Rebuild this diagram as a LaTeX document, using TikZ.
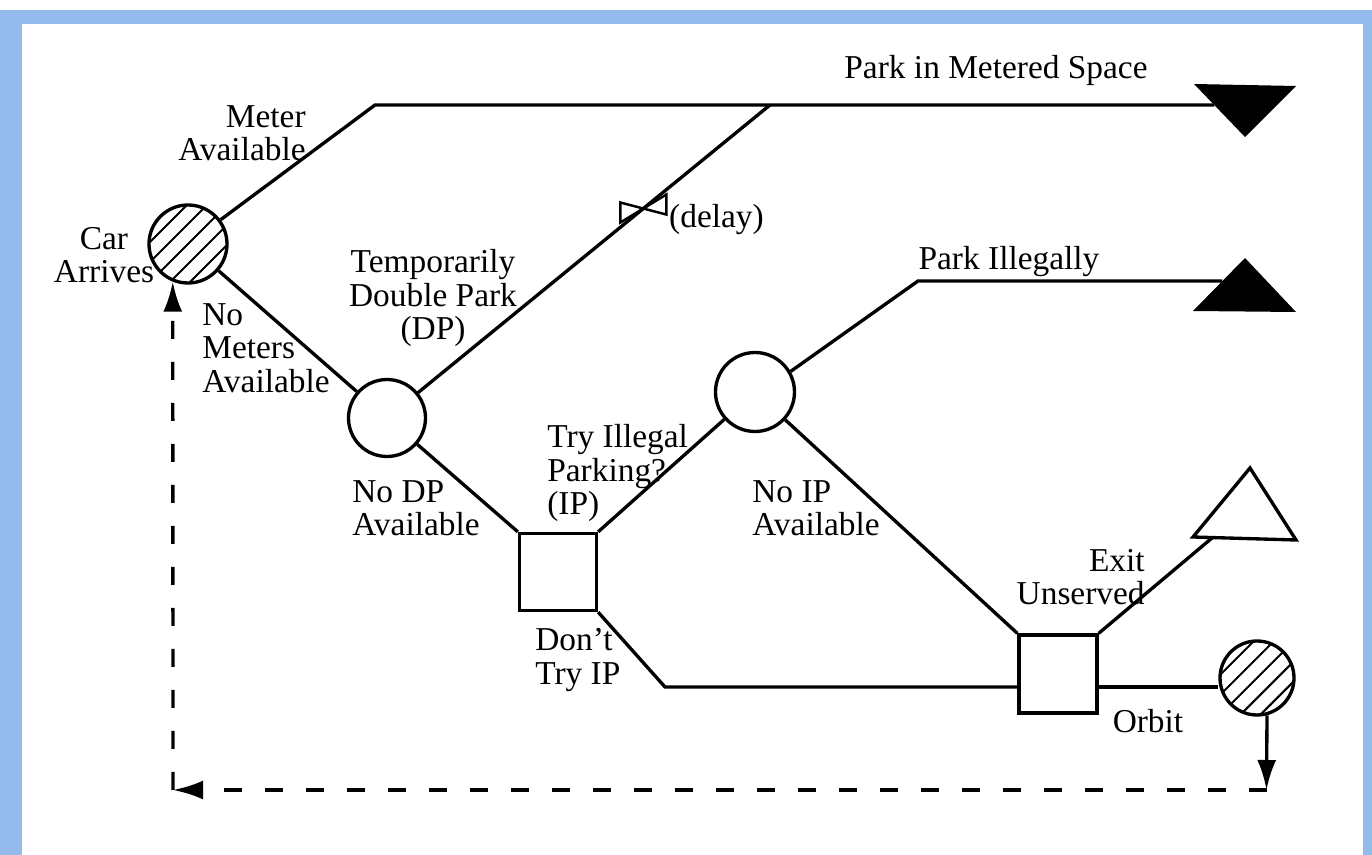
\documentclass[tikz,border=0pt]{standalone}
\usepackage{fontspec}
\setmainfont{Liberation Serif}
\usetikzlibrary{positioning, arrows.meta}
\definecolor{framebg}{HTML}{94B9EB}

\tikzset{
  chance/.style={draw, circle, line width=1.9pt, minimum size=1.54cm, inner sep=0pt},
  choice/.style={draw, rectangle, line width=1.9pt, minimum size=1.54cm, inner sep=0pt},
  hatched/.style={path picture={\foreach \k in {-3,...,3}
      \draw[line width=1.2pt] ([xshift=\k*4mm]path picture bounding box.center) ++(-1,-1) -- ++(2,2);}},
  branch/.style={line width=1.9pt},
  loopback/.style={line width=1.9pt, dash pattern=on 3.6mm off 4.6mm},
  backarrow/.style={-{Latex[length=6mm,width=3.8mm]}},
  lbl/.style={font=\fontsize{19}{19}\selectfont, inner sep=0pt},
}

\begin{document}
\begin{tikzpicture}
  \useasboundingbox (0,0) rectangle (27.44,-17.1);
  \fill[framebg] (0,-0.2) rectangle (27.44,-17.1);
  \fill[white] (0.44,-0.48) rectangle (27.26,-17.1);

  % tree nodes
  \node[chance, hatched, minimum size=1.56cm] (car) at (3.76,-4.88) {};
  \node[chance] (dp) at (7.74,-8.36) {};
  \node[choice] (ipq) at (11.16,-11.44) {};
  \node[chance, minimum size=1.58cm] (ipc) at (15.1,-7.84) {};
  \node[choice, minimum size=1.56cm] (exq) at (21.16,-13.48) {};
  \node[chance, hatched, minimum size=1.48cm] (orbit) at (25.14,-13.56) {};

  % bends and ends
  \coordinate (mbend) at (7.5,-2.1);
  \coordinate (mend) at (24.28,-2.1);
  \coordinate (dpjoin) at (15.4,-2.1);
  \coordinate (ibend) at (18.36,-5.62);
  \coordinate (iend) at (24.44,-5.62);
  \coordinate (xend) at (24.24,-10.76);
  \coordinate (dbend) at (13.3,-13.74);
  \coordinate (ocorner) at (25.33,-15.8);
  \coordinate (lcorner) at (3.46,-15.8);

  % outcomes
  \fill (23.88,-1.68) -- (25.92,-1.72) -- (24.9,-2.74) -- cycle;
  \fill (24.9,-5.16) -- (25.92,-6.24) -- (23.86,-6.22) -- cycle;
  \draw[branch, line join=miter] (25.0,-9.36) -- (25.92,-10.8) -- (23.86,-10.74) -- cycle;

  % branches
  \draw[branch] (car) -- (mbend) -- (mend);
  \draw[branch] (car) -- (dp);
  \draw[branch] (dp) -- coordinate[pos=0.64] (valve) (dpjoin);
  \draw[line width=1.4pt, line join=miter] (valve) -- ++(-0.46,0.12) -- ++(0,-0.4) -- cycle;
  \draw[line width=1.4pt, line join=miter] (valve) -- ++(0.46,0.28) -- ++(0,-0.4) -- cycle;
  \draw[branch] (dp) -- (ipq.north west);
  \draw[branch] (ipq.north east) -- (ipc);
  \draw[branch] (ipq.south east) -- (dbend) -- (dbend -| exq.west);
  \draw[branch] (ipc.30) -- (ibend) -- (iend);
  \draw[branch] (ipc) -- (exq.north west);
  \draw[branch] (exq.north east) -- (xend);
  \draw[branch] (exq.east |- dbend) -- (orbit.west |- dbend);
  \draw[branch, backarrow] (orbit.-75) -- (ocorner);
  \draw[loopback, backarrow] (ocorner) -- (lcorner);
  \draw[loopback, backarrow] (lcorner) -- (car.-112);

  % labels
  \node[lbl] (tmet) at (19.92,-1.40) {Park in Metered Space};
  \node[lbl, align=right, anchor=east] (tmeter) at (6.12,-2.66) {Meter\\Available};
  \node[lbl, align=center] (tcar) at (2.08,-5.1) {Car\\Arrives};
  \node[lbl, align=left, anchor=west] (tnomet) at (4.04,-6.96) {No\\Meters\\Available};
  \node[lbl, align=center] (tdp) at (8.66,-5.96) {Temporarily\\Double Park\\(DP)};
  \node[lbl] (tdelay) at (14.33,-4.4) {(delay)};
  \node[lbl] (tillegal) at (20.18,-5.24) {Park Illegally};
  \node[lbl, align=left, anchor=west] (tnodp) at (7.04,-10.16) {No DP\\Available};
  \node[lbl, align=left, anchor=west] (ttry) at (10.94,-9.46) {Try Illegal\\Parking?\\(IP)};
  \node[lbl, align=left, anchor=west] (tdont) at (10.7,-13.2) {Don't\\Try IP};
  \node[lbl, align=left, anchor=west] (tnoip) at (15.04,-10.16) {No IP\\Available};
  \node[lbl, align=right, anchor=east] (texit) at (22.9,-11.54) {Exit\\Unserved};
  \node[lbl] (torbit) at (22.96,-14.42) {Orbit};
\end{tikzpicture}
\end{document}
